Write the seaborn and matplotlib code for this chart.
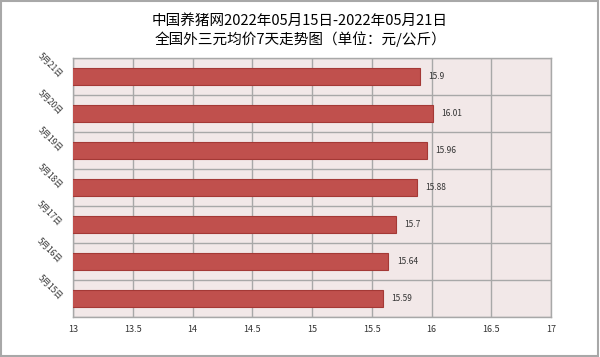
import matplotlib
matplotlib.use("Agg")
import matplotlib.pyplot as plt
import seaborn as sns
import pandas as pd
from matplotlib.patches import Rectangle

dates = ["5月21日", "5月20日", "5月19日", "5月18日", "5月17日", "5月16日", "5月15日"]
prices = [15.9, 16.01, 15.96, 15.88, 15.7, 15.64, 15.59]
x_ticks = [13, 13.5, 14, 14.5, 15, 15.5, 16, 16.5, 17]
x_tick_labels = ["13", "13.5", "14", "14.5", "15", "15.5", "16", "16.5", "17"]
title = "中国养猪网2022年05月15日-2022年05月21日\n全国外三元均价7天走势图（单位：元/公斤）"

sns.set_style("white")
plt.rcParams['font.family'] = ['Noto Sans CJK SC', 'DejaVu Sans']

df = pd.DataFrame({"date": dates, "price": prices})

fig = plt.figure(figsize=(6, 3.57), dpi=100)
ax = fig.add_axes([73/600, 1-317/357, (551-73)/600, (317-58)/357])
ax.set_facecolor("#F2E8E8")

sns.barplot(data=df, x="price", y="date", order=dates, orient="h", ax=ax,
            color="#C0504D", width=0.45, edgecolor="#A43936", linewidth=0.8,
            saturation=1, zorder=3)

ax.set_xlim(13, 17)
ax.set_ylim(len(dates)-0.5, -0.5)
ax.set_xticks(x_ticks)
ax.set_xticklabels(x_tick_labels, fontsize=6.5, color="#333333")
ax.set_yticks(range(len(dates)))
ax.set_yticklabels(dates, fontsize=6, rotation=-45, ha="right", va="center",
                   rotation_mode="anchor", color="#333333")
ax.set_yticks([i - 0.5 for i in range(len(dates)+1)], minor=True)
ax.tick_params(axis="y", which="both", length=0, pad=9)
ax.tick_params(axis="x", length=0, pad=6)
ax.grid(False)
ax.grid(axis="x", which="major", color="#A8A8A8", linewidth=1, zorder=1)
ax.grid(axis="y", which="minor", color="#A8A8A8", linewidth=1, zorder=1)
ax.set_axisbelow(True)
for s in ax.spines.values():
    s.set_color("#A8A8A8")
    s.set_linewidth(1)
ax.set_xlabel("")
ax.set_ylabel("")

for i, v in enumerate(prices):
    ax.text(v + 0.07, i, f"{v:g}", fontsize=6, va="center", ha="left",
            color="#333333", zorder=4)

fig.text(0.5, 0.96, title, ha="center", va="top", fontsize=10.5,
         linespacing=1.2, color="#000000")

fig.patches.append(Rectangle((0.002, 0.003), 0.995, 0.994, transform=fig.transFigure,
                             fill=False, edgecolor="#A8A8A8", linewidth=1.5))

fig.savefig("out.png", dpi=100)
